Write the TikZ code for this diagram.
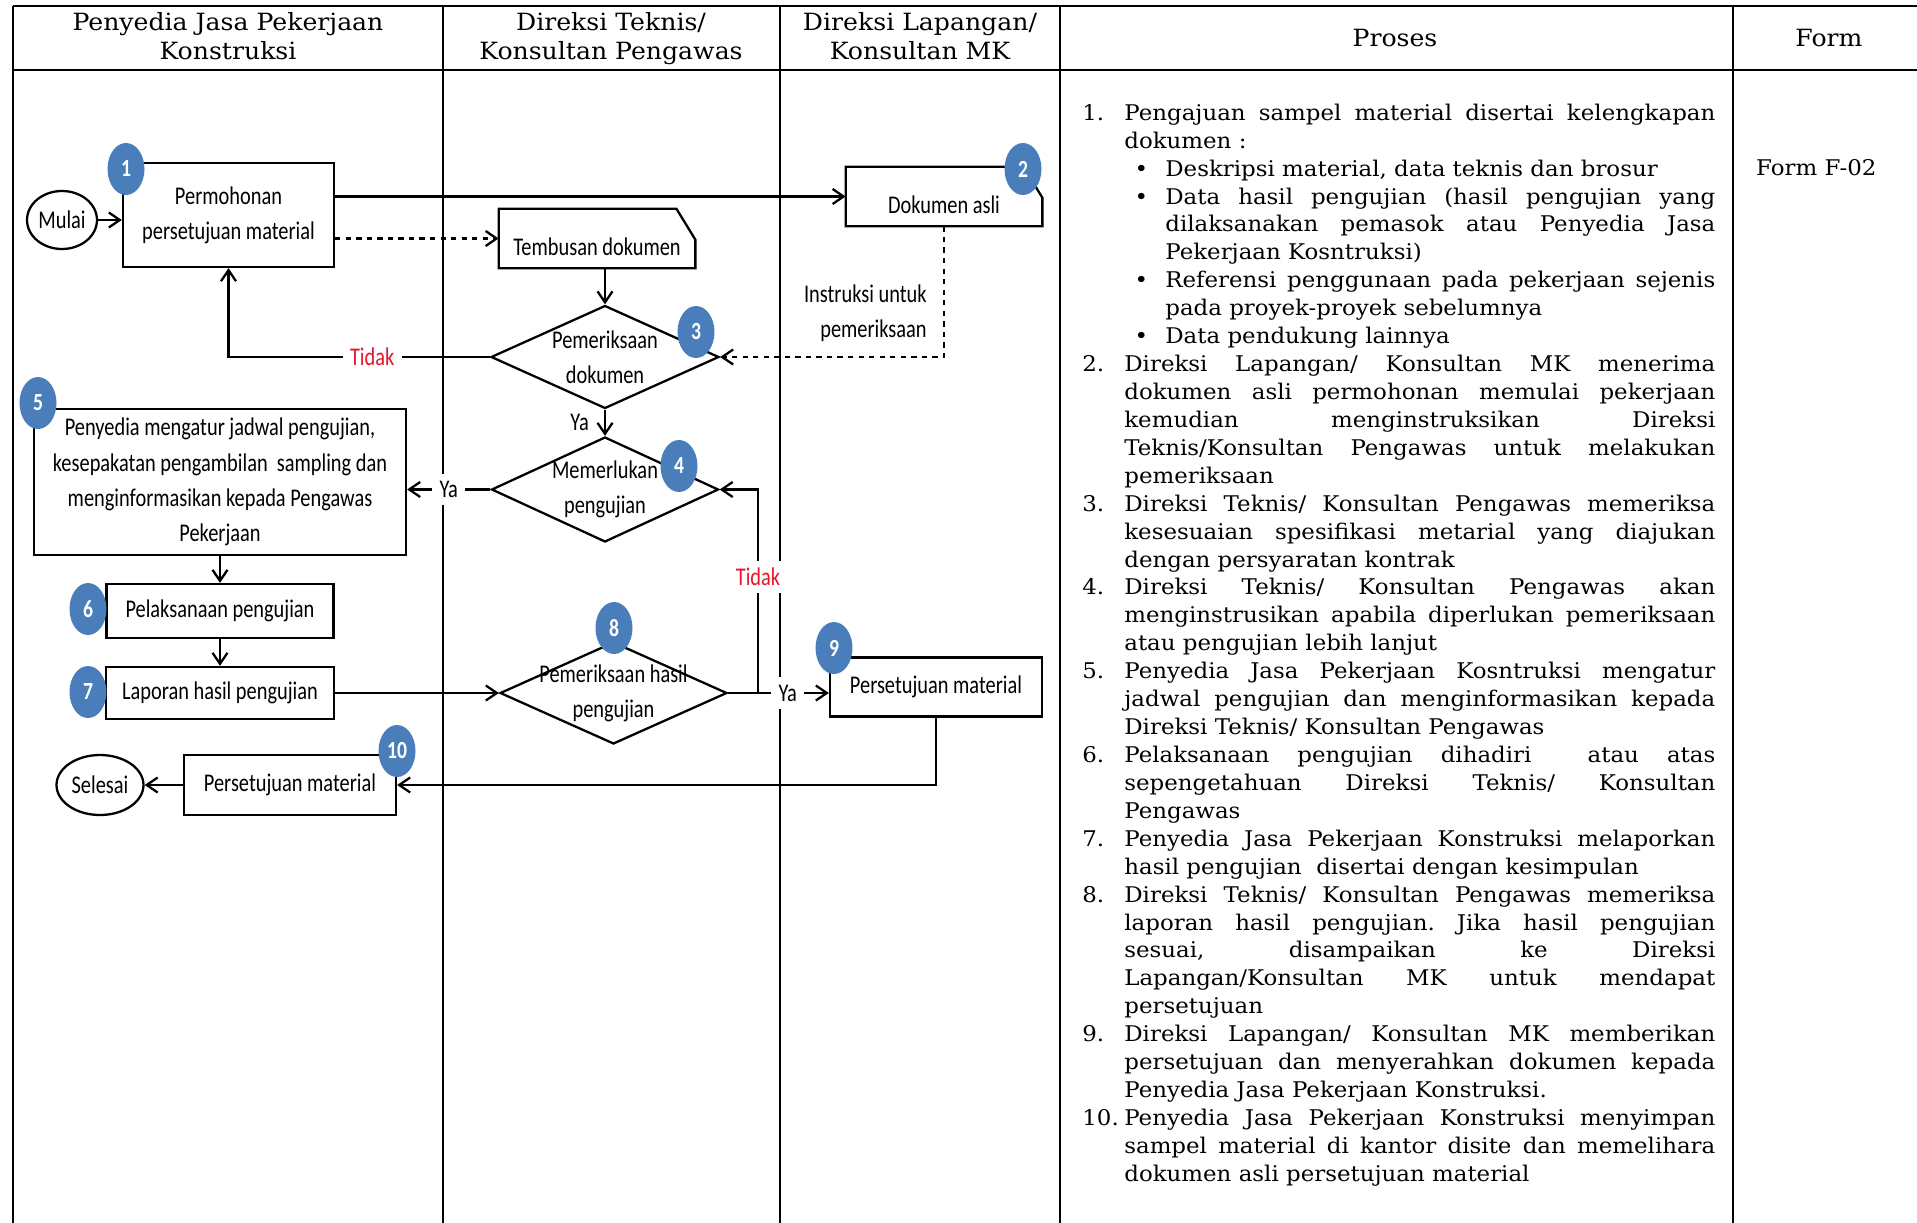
\documentclass[tikz,border=0pt]{standalone}
\usepackage{fontspec}
\setmainfont{DejaVu Serif}
\newfontfamily\tabfont[FakeStretch=1.06]{DejaVu Serif}
\newfontfamily\flowfont[FakeStretch=0.8]{Carlito}
\usetikzlibrary{shapes.geometric,arrows.meta}
\frenchspacing

\definecolor{badgeblue}{RGB}{74,126,187}
\definecolor{tidakred}{RGB}{228,22,40}

\newcommand{\numitem}[1]{\par\noindent\llap{\makebox[8.4mm][l]{#1}}\ignorespaces}
\newcommand{\bulitem}{\par\noindent\hangindent=8.2mm\hangafter=0%
	\llap{\makebox[0pt]{\textbullet}\hspace{4.8mm}}\ignorespaces}

\begin{document}
\begin{tikzpicture}[x=1mm,y=-1mm,
	>={Straight Barb[length=2.2mm,width=3mm]},
	tab/.style={font=\tabfont\fontsize{12.3}{15.89}\selectfont},
	head/.style={font=\tabfont\fontsize{13.5}{16.5}\selectfont, align=center},
	flow/.style={font=\flowfont\fontsize{14.5}{20}\selectfont, align=center, inner sep=0pt},
	box/.style={flow, draw, line width=1.3pt},
	card/.style={flow, minimum width=39.2mm, minimum height=11.8mm},
	decision/.style={draw, line width=1.3pt, diamond, inner sep=0pt},
	terminal/.style={flow, draw, line width=1.3pt, ellipse},
	badge/.style={ellipse, fill=badgeblue, text=white, inner sep=0pt,
		minimum width=7.4mm, minimum height=10.4mm,
		font=\flowfont\bfseries\fontsize{14}{14}\selectfont},
	lbl/.style={flow, fill=white, inner sep=1.5mm},
	conn/.style={line width=1.3pt, ->}]

	\useasboundingbox (0,0) rectangle (383.4,244.6);

% table frame %{{{2

	\draw[line width=1.5pt] (2.6,1.2) -- (383.4,1.2);
	\draw[line width=1.5pt] (2.6,14) -- (383.4,14);
	\foreach \x in {2.6,88.6,156,212,346.6}
		\draw[line width=1pt] (\x,1.2) -- (\x,244.6);

% header %{{{2

	\node[head] (h1) at (45.6,7.8) {\strut Penyedia Jasa Pekerjaan\\Konstruksi\strut};
	\node[head] (h2) at (122.2,7.8) {\strut Direksi Teknis/\\Konsultan Pengawas\strut};
	\node[head] (h3) at (184,7.8) {\strut Direksi Lapangan/\\Konsultan MK\strut};
	\node[head] (h4) at (279,7.6) {Proses};
	\node[head] (h5) at (365.8,7.6) {Form};

% flow nodes %{{{2

	\node[terminal, minimum width=14mm, minimum height=11.6mm] (mulai) at (12.4,44) {Mulai};
	\node[box, minimum width=42.2mm, minimum height=20.8mm] (p1) at (45.7,43)
		{Permohonan\\persetujuan material};

	\node[card, label={[flow, yshift=-1.6mm]center:Dokumen asli}] (dok) at (188.8,39.3) {};
	\draw[line width=1.3pt] (dok.south west) -- (dok.north west)
		-- ([xshift=-3.8mm]dok.north east) -- ([yshift=-6.2mm]dok.north east)
		-- (dok.south east) -- cycle;

	\node[card, label={[flow, yshift=-1.6mm]center:Tembusan dokumen}] (tem) at (119.4,47.7) {};
	\draw[line width=1.3pt] (tem.south west) -- (tem.north west)
		-- ([xshift=-3.8mm]tem.north east) -- ([yshift=-6.2mm]tem.north east)
		-- (tem.south east) -- cycle;

	\node[decision, minimum width=45.6mm, minimum height=20.6mm,
		label={[flow]center:Pemeriksaan\\dokumen}] (d3) at (121,71.4) {};
	\node[decision, minimum width=45.4mm, minimum height=21mm,
		label={[flow]center:Memerlukan\\pengujian}] (d4) at (121,97.9) {};

	\node[box, minimum width=74.4mm, minimum height=29.2mm] (p5) at (44,96.4)
		{Penyedia mengatur jadwal pengujian,\\kesepakatan pengambilan\ \ sampling dan\\
		menginformasikan kepada Pengawas\\Pekerjaan};
	\node[box, minimum width=45.4mm, minimum height=10.8mm] (p6) at (44,122.2)
		{Pelaksanaan pengujian};
	\node[box, minimum width=45.6mm, minimum height=10.4mm] (p7) at (44,138.6)
		{Laporan hasil pengujian};

	\node[decision, minimum width=45.4mm, minimum height=20.4mm,
		label={[flow]center:Pemeriksaan hasil\\pengujian}] (d8) at (122.7,138.6) {};
	\node[box, minimum width=42.4mm, minimum height=11.8mm] (p9) at (187.2,137.4)
		{Persetujuan material};

	\node[box, minimum width=42.4mm, minimum height=12mm] (p10) at (58,157)
		{Persetujuan material};
	\node[terminal, minimum width=17.4mm, minimum height=12mm] (selesai) at (20,157) {Selesai};

	\coordinate (jn) at (151.6,138.6);

% connectors %{{{2

	\draw[conn] (mulai.east) -- (mulai.east -| p1.west);
	\draw[conn] (p1.east |- dok.west) -- (dok.west);
	\draw[conn, dashed] (p1.east |- tem.west) -- (tem.west);
	\draw[conn] (tem.south -| d3.north) -- (d3.north);
	\draw[conn, dashed] (dok.south) |- (d3.east);
	\node[flow, align=right, anchor=east] (instr) at (185.4,62.6)
		{Instruksi untuk\\pemeriksaan};
	\draw[conn] (d3.west) -| node[lbl, pos=0.225, text=tidakred] (tidak1) {Tidak} (p1.south);
	\draw[conn] (d3.south) -- node[flow, left=3mm] (ya1) {Ya} (d4.north);
	\draw[conn] (d4.west) -- node[lbl] (ya2) {Ya} (d4.west -| p5.east);
	\draw[conn] (p5.south) -- (p5.south |- p6.north);
	\draw[conn] (p6.south) -- (p6.south |- p7.north);
	\draw[conn] (p7.east) -- (d8.west);
	\draw[line width=1.3pt] (d8.east) -- (jn);
	\draw[conn] (jn) |- node[lbl, pos=0.285, text=tidakred] (tidak2) {Tidak} (d4.east);
	\draw[conn] (jn) -- node[lbl, pos=0.42] (ya3) {Ya} (jn -| p9.west);
	\draw[conn] (p9.south) |- (p10.east);
	\draw[conn] (p10.west) -- (selesai.east);

% badges %{{{2

	\node[badge] (b1) at (25.2,33.8) {1};
	\node[badge] (b2) at (204.6,33.8) {2};
	\node[badge] (b3) at (139.2,66.4) {3};
	\node[badge] (b4) at (135.8,93.2) {4};
	\node[badge] (b5) at (7.6,80.6) {5};
	\node[badge] (b6) at (17.6,121.8) {6};
	\node[badge] (b7) at (17.6,138.4) {7};
	\node[badge] (b8) at (122.8,125.6) {8};
	\node[badge] (b9) at (166.8,129.6) {9};
	\node[badge] (b10) at (79.4,150.2) {10};

% process text %{{{2

	\node[tab, anchor=north west, inner sep=0pt, text width=118.2mm, align=justify]
		(proses) at (224.8,18.4) {\tolerance=10000\parskip=0pt
	\numitem{1.}\rule{0pt}{4mm}Pengajuan sampel material disertai kelengkapan
		\linebreak dokumen :
	\bulitem Deskripsi material, data teknis dan brosur
	\bulitem Data hasil pengujian (hasil pengujian yang \linebreak dilaksanakan pemasok
		atau Penyedia Jasa \linebreak Pekerjaan Kosntruksi)
	\bulitem Referensi penggunaan pada pekerjaan sejenis \linebreak pada proyek-proyek
		sebelumnya
	\bulitem Data pendukung lainnya
	\numitem{2.}Direksi Lapangan/ Konsultan MK menerima \linebreak dokumen asli permohonan
		memulai pekerjaan \linebreak kemudian menginstruksikan Direksi
		\linebreak Teknis/Konsultan Pengawas untuk melakukan \linebreak pemeriksaan
	\numitem{3.}Direksi Teknis/ Konsultan Pengawas memeriksa \linebreak kesesuaian
		spesifikasi metarial yang diajukan \linebreak dengan persyaratan kontrak
	\numitem{4.}Direksi Teknis/ Konsultan Pengawas akan \linebreak menginstrusikan apabila
		diperlukan pemeriksaan \linebreak atau pengujian lebih lanjut
	\numitem{5.}Penyedia Jasa Pekerjaan Kosntruksi mengatur \linebreak jadwal pengujian dan
		menginformasikan kepada \linebreak Direksi Teknis/ Konsultan Pengawas
	\numitem{6.}Pelaksanaan pengujian dihadiri\ \ atau atas \linebreak sepengetahuan Direksi
		Teknis/ Konsultan \linebreak Pengawas
	\numitem{7.}Penyedia Jasa Pekerjaan Konstruksi melaporkan \linebreak hasil pengujian\ \
		disertai dengan kesimpulan
	\numitem{8.}Direksi Teknis/ Konsultan Pengawas memeriksa \linebreak laporan hasil
		pengujian. Jika hasil pengujian \linebreak sesuai, disampaikan ke Direksi
		\linebreak Lapangan/Konsultan MK untuk mendapat \linebreak persetujuan
	\numitem{9.}Direksi Lapangan/ Konsultan MK memberikan \linebreak persetujuan dan
		menyerahkan dokumen kepada \linebreak Penyedia Jasa Pekerjaan Konstruksi.
	\numitem{10.}Penyedia Jasa Pekerjaan Konstruksi menyimpan \linebreak sampel material di
		kantor disite dan memelihara \linebreak dokumen asli persetujuan material\par};

	\node[tab, anchor=west] (form) at (350,33.5) {Form F-02};

\end{tikzpicture}
\end{document}
